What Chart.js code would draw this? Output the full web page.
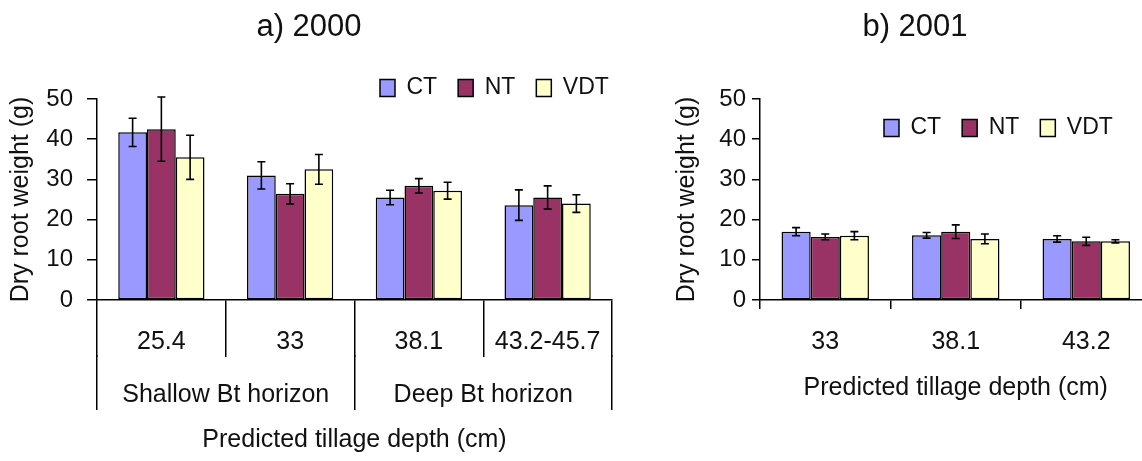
<!DOCTYPE html>
<html><head><meta charset="utf-8">
<script src="https://cdn.jsdelivr.net/npm/chart.js@4/dist/chart.umd.min.js"></script>
<style>
html,body{margin:0;padding:0;background:#fff;overflow:hidden;width:1142px;height:461px;position:relative;}
#ca{position:absolute;left:0;top:0;}
#cb{position:absolute;left:660px;top:0;}
</style></head><body>
<canvas id="ca" width="630" height="461"></canvas>
<canvas id="cb" width="500" height="461"></canvas>
<script>
// ---- data ----
const seriesNames = ['CT', 'NT', 'VDT'];
const seriesColors = ['#9999FF', '#993366', '#FFFFCC'];
const yTicks = [0, 10, 20, 30, 40, 50];

// a) 2000
const catsA = ['25.4', '33', '38.1', '43.2-45.7'];
const groupsA = ['Shallow Bt horizon', 'Deep Bt horizon'];
const ctA = [41.7, 31.0, 25.5, 23.6];
const ntA = [42.5, 26.4, 28.4, 25.5];
const vdtA = [35.5, 32.5, 27.2, 24.0];
const ctErrA = [3.5, 3.4, 1.8, 3.8];
const ntErrA = [8.0, 2.5, 1.8, 2.9];
const vdtErrA = [5.5, 3.7, 2.1, 2.2];

// b) 2001
const catsB = ['33', '38.1', '43.2'];
const ctB = [17.0, 16.1, 15.2];
const ntB = [15.7, 17.0, 14.6];
const vdtB = [16.0, 15.2, 14.6];
const ctErrB = [1.0, 0.7, 0.8];
const ntErrB = [0.7, 1.7, 1.0];
const vdtErrB = [1.0, 1.2, 0.4];

const yTitle = 'Dry root weight (g)';
const xTitle = 'Predicted tillage depth (cm)';

Chart.defaults.font.family = "'Liberation Sans', Arial, sans-serif";
Chart.defaults.color = '#111';

const errorBars = {
  id: 'errorBars',
  afterDatasetsDraw(chart) {
    const ctx = chart.ctx, ys = chart.scales.y;
    chart.data.datasets.forEach((ds, i) => {
      const meta = chart.getDatasetMeta(i);
      meta.data.forEach((bar, j) => {
        const v = ds.data[j], e = ds.errors[j];
        const x = bar.x;
        const yt = ys.getPixelForValue(v + e), yb = ys.getPixelForValue(v - e);
        ctx.save();
        ctx.strokeStyle = '#000'; ctx.lineWidth = 1.6;
        ctx.beginPath();
        ctx.moveTo(x, yt); ctx.lineTo(x, yb);
        ctx.moveTo(x - 4, yt); ctx.lineTo(x + 4, yt);
        ctx.moveTo(x - 4, yb); ctx.lineTo(x + 4, yb);
        ctx.stroke();
        ctx.restore();
      });
    });
  }
};

const placeLegend = {
  id: 'placeLegend',
  beforeDraw(chart, args, opts) {
    const l = chart.legend; if (!l || !opts || opts.x === undefined) return;
    const pad = opts.pad, ih = opts.ih;
    l.left = opts.x - pad; l.right = chart.width + 200;
    l.top = opts.y - pad - ih / 2; l.bottom = l.top + ih + 2 * pad;
  }
};

function datasets(vals, errs) {
  return seriesNames.map((n, k) => ({
    label: n, data: vals[k], errors: errs[k],
    backgroundColor: seriesColors[k], borderColor: '#000', borderWidth: 1.5,
    borderSkipped: false, categoryPercentage: 0.67, barPercentage: 1.0
  }));
}

function yScale(width, tickLen, pad, titlePad) {
  return {
    type: 'linear', position: 'left', min: 0, max: 50,
    afterBuildTicks: s => { s.ticks = yTicks.map(v => ({value: v})); },
    grid: {drawOnChartArea: false, drawTicks: true, tickLength: tickLen, color: '#000', lineWidth: 1.5},
    border: {display: true, color: '#000', width: 1.5},
    ticks: {font: {size: 24}, color: '#111', padding: pad},
    title: {display: true, text: yTitle, font: {size: 25}, color: '#111', padding: {top: titlePad, bottom: 0}},
    afterFit: s => { s.width = width; }
  };
}

function legendOpts() {
  return {display: true, position: 'top', align: 'start', maxHeight: 0.001,
    labels: {boxWidth: 15, boxHeight: 17, padding: 21, font: {size: 23}, color: '#111'}};
}

new Chart(document.getElementById('ca'), {
  type: 'bar',
  data: {labels: catsA, datasets: datasets([ctA, ntA, vdtA], [ctErrA, ntErrA, vdtErrA])},
  options: {
    responsive: false, animation: false, devicePixelRatio: 1,
    layout: {padding: {left: 6, right: 18, top: 0, bottom: 0}},
    plugins: {
      title: {display: true, text: 'a) 2000', font: {size: 31, weight: 'normal'}, color: '#111', padding: {top: 9, bottom: 52.8}},
      legend: legendOpts(),
      tooltip: {enabled: false},
      placeLegend: {x: 380, y: 88, pad: 21, ih: 23}
    },
    scales: {
      x: {type: 'category', position: 'bottom', offset: true, weight: 0,
        grid: {offset: true, drawOnChartArea: false, drawTicks: true, tickLength: 57, color: '#000', lineWidth: 1.5},
        border: {display: true, color: '#000', width: 1.5},
        ticks: {padding: -30, font: {size: 25}, color: '#111', maxRotation: 0, autoSkip: false},
        afterFit: s => { s.height = 55; }},
      x2: {type: 'category', axis: 'x', position: 'bottom', labels: groupsA, offset: true, weight: 1,
        grid: {offset: true, drawOnChartArea: false, drawTicks: true, tickLength: 55, color: '#000', lineWidth: 1.5},
        border: {display: false},
        ticks: {padding: -30, font: {size: 25}, color: '#111', maxRotation: 0, autoSkip: false},
        title: {display: true, text: xTitle, font: {size: 25}, color: '#111', padding: {top: 0, bottom: 6}},
        afterFit: s => { s.height = 106; }},
      y: yScale(91, 10, 14, 0)
    }
  },
  plugins: [errorBars, placeLegend]
});

new Chart(document.getElementById('cb'), {
  type: 'bar',
  data: {labels: catsB, datasets: datasets([ctB, ntB, vdtB], [ctErrB, ntErrB, vdtErrB])},
  options: {
    responsive: false, animation: false, devicePixelRatio: 1,
    layout: {padding: {left: 18.5, right: 8.5, top: 0, bottom: 0}},
    plugins: {
      title: {display: true, text: 'b) 2001', font: {size: 31, weight: 'normal'}, color: '#111', padding: {top: 9, bottom: 52.8}},
      legend: legendOpts(),
      tooltip: {enabled: false},
      placeLegend: {x: 224, y: 128, pad: 21, ih: 23}
    },
    scales: {
      x: {type: 'category', position: 'bottom', offset: true,
        grid: {offset: true, drawOnChartArea: false, drawTicks: true, tickLength: 9, color: '#000', lineWidth: 1.5},
        border: {display: true, color: '#000', width: 1.5},
        ticks: {padding: 18, font: {size: 25}, color: '#111', maxRotation: 0, autoSkip: false},
        title: {display: true, text: xTitle, font: {size: 25}, color: '#111', padding: {top: 0, bottom: 58}},
        afterFit: s => { s.height = 161; }},
      y: yScale(81.5, 8, 6, -6.5)
    }
  },
  plugins: [errorBars, placeLegend]
});
</script>
</body></html>
